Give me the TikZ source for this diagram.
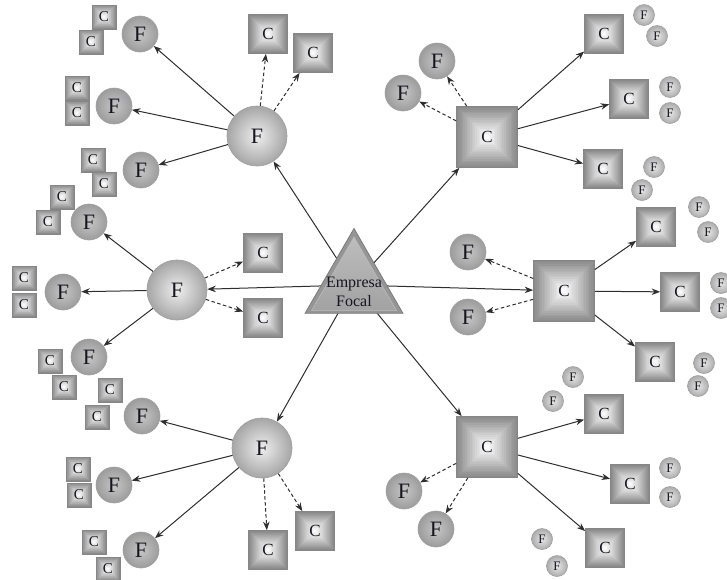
\documentclass[tikz,border=0pt]{standalone}
\usepackage{fontspec}
\setmainfont{Liberation Serif}
\newfontfamily\diagfont{Liberation Serif}
\usetikzlibrary{arrows.meta,shapes.geometric,backgrounds,calc}

\definecolor{linec}{HTML}{2E2E2E}
\definecolor{bigFin}{HTML}{EEEEEE}
\definecolor{bigFout}{HTML}{A6A6A6}
\definecolor{midFin}{HTML}{C6C6C6}
\definecolor{midFout}{HTML}{9C9C9C}
\definecolor{tinyFin}{HTML}{E8E8E8}
\definecolor{tinyFout}{HTML}{ABABAB}
\definecolor{circline}{HTML}{A0A0A0}
\definecolor{sqedge}{HTML}{8A8A8A}
\definecolor{sqmid}{HTML}{FCFCFC}
\definecolor{sqline}{HTML}{868686}
\definecolor{triout}{HTML}{959595}
\definecolor{triline}{HTML}{7C7C7C}
\definecolor{triinTop}{HTML}{BDBDBD}
\definecolor{triinBot}{HTML}{A2A2A2}
\definecolor{ink}{HTML}{161620}

\tikzset{
  every node/.style={text=ink},
  % bevel of the square company nodes: nested squares from grey rim to light centre
  pyramid/.style={path picture={
    \foreach \k in {0,...,17}{
      \pgfmathsetmacro\f{1-\k/18}
      \pgfmathsetmacro\p{100*\k/17}
      \fill[sqmid!\p!sqedge]
        ($(path picture bounding box.center)!\f!(path picture bounding box.north west)$)
        rectangle
        ($(path picture bounding box.center)!\f!(path picture bounding box.south east)$);
    }
  }},
  sq/.style={rectangle, inner sep=0pt, fill=sqedge, draw=sqline, line width=0.7pt, pyramid},
  bigC/.style={sq, minimum size=61pt, font=\diagfont\fontsize{17}{17}\selectfont},
  midC/.style={sq, minimum size=39pt, font=\diagfont\fontsize{17}{17}\selectfont},
  smallC/.style={sq, minimum size=24pt, font=\diagfont\fontsize{15}{15}\selectfont},
  bigF/.style={circle, inner sep=0pt, minimum size=60pt, draw=circline, line width=0.6pt,
    shading=radial, inner color=bigFin, outer color=bigFout, font=\diagfont\fontsize{22}{22}\selectfont},
  midF/.style={circle, inner sep=0pt, minimum size=36pt, draw=circline, line width=0.6pt,
    shading=radial, inner color=midFin, outer color=midFout, font=\diagfont\fontsize{22}{22}\selectfont},
  tinyF/.style={circle, inner sep=0pt, minimum size=21pt, draw=circline, line width=0.6pt,
    shading=radial, inner color=tinyFin, outer color=tinyFout, font=\diagfont\fontsize{13}{13}\selectfont},
  arr/.style={draw=linec, line width=1pt, -{Stealth[length=8.5pt,width=6.5pt]}},
  darr/.style={arr, dash pattern=on 3.5pt off 2.5pt},
}

\begin{document}
\begin{tikzpicture}[x=1pt, y=-1pt]
\useasboundingbox (0,0) rectangle (727,579);

% ---------- focal company ----------
\node[regular polygon, regular polygon sides=3, minimum size=113pt, inner sep=0pt,
      fill=triout, draw=triline, line width=0.8pt] (tri) at (354,285) {};
\node[regular polygon, regular polygon sides=3, minimum size=98pt, inner sep=0pt,
      top color=triinTop, bottom color=triinBot, draw=triinTop, line width=0.5pt] (triIn) at (354,286) {};
\node[align=center, font=\diagfont\fontsize{16}{19}\selectfont] (focal) at (354,292) {Empresa\\Focal};

% ---------- first-tier hubs ----------
\node[bigF] (hT) at (257,136) {F};
\node[bigF] (hL) at (177,290) {F};
\node[bigF] (hB) at (262,448) {F};
\node[bigC] (hTR) at (487,137) {C};
\node[bigC] (hR) at (564,291) {C};
\node[bigC] (hBR) at (487,447) {C};

% ---------- upper supplier hub ----------
\node[midF] (t1) at (140,34) {F};
\node[midF] (t2) at (114,106) {F};
\node[midF] (t3) at (141,170) {F};
\node[smallC] (t1a) at (104,17) {C};
\node[smallC] (t1b) at (91,42) {C};
\node[smallC] (t2a) at (77,88) {C};
\node[smallC] (t2b) at (77,113) {C};
\node[smallC] (t3a) at (93,160) {C};
\node[smallC] (t3b) at (104,184) {C};
\node[midC] (tc1) at (268,34) {C};
\node[midC] (tc2) at (313,53) {C};

% ---------- left supplier hub ----------
\node[midF] (l1) at (89,222) {F};
\node[midF] (l2) at (63,292) {F};
\node[midF] (l3) at (89,357) {F};
\node[smallC] (l1a) at (62,197) {C};
\node[smallC] (l1b) at (48,222) {C};
\node[smallC] (l2a) at (24,278) {C};
\node[smallC] (l2b) at (24,305) {C};
\node[smallC] (l3a) at (50,361) {C};
\node[smallC] (l3b) at (64,387) {C};
\node[midC] (lc1) at (263,253) {C};
\node[midC] (lc2) at (263,318) {C};

% ---------- lower supplier hub ----------
\node[midF] (b1) at (142,416) {F};
\node[midF] (b2) at (114,485) {F};
\node[midF] (b3) at (141,550) {F};
\node[smallC] (b1a) at (110,390) {C};
\node[smallC] (b1b) at (97,417) {C};
\node[smallC] (b2a) at (78,469) {C};
\node[smallC] (b2b) at (79,495) {C};
\node[smallC] (b3a) at (94,542) {C};
\node[smallC] (b3b) at (108,569) {C};
\node[midC] (bc1) at (268,550) {C};
\node[midC] (bc2) at (315,531) {C};

% ---------- upper customer hub ----------
\node[midF] (ur1) at (437,61) {F};
\node[midF] (ur2) at (403,93) {F};
\node[midC] (uc1) at (604,34) {C};
\node[midC] (uc2) at (629,99) {C};
\node[midC] (uc3) at (603,169) {C};
\node[tinyF] (uc1a) at (644,15) {F};
\node[tinyF] (uc1b) at (657,36) {F};
\node[tinyF] (uc2a) at (670,87) {F};
\node[tinyF] (uc2b) at (670,113) {F};
\node[tinyF] (uc3a) at (654,167) {F};
\node[tinyF] (uc3b) at (642,190) {F};

% ---------- right customer hub ----------
\node[midF] (rf1) at (468,252) {F};
\node[midF] (rf2) at (468,317) {F};
\node[midC] (rc1) at (656,227) {C};
\node[midC] (rc2) at (680,292) {C};
\node[midC] (rc3) at (655,362) {C};
\node[tinyF] (rc1a) at (699,207) {F};
\node[tinyF] (rc1b) at (708,232) {F};
\node[tinyF] (rc2a) at (721,283) {F};
\node[tinyF] (rc2b) at (721,308) {F};
\node[tinyF] (rc3a) at (704,363) {F};
\node[tinyF] (rc3b) at (698,386) {F};

% ---------- lower customer hub ----------
\node[midF] (lf1) at (404,491) {F};
\node[midF] (lf2) at (436,529) {F};
\node[midC] (lc4) at (604,414) {C};
\node[midC] (lc5) at (630,484) {C};
\node[midC] (lc6) at (605,548) {C};
\node[tinyF] (lc4a) at (573,377) {F};
\node[tinyF] (lc4b) at (553,401) {F};
\node[tinyF] (lc5a) at (670,468) {F};
\node[tinyF] (lc5b) at (670,497) {F};
\node[tinyF] (lc6a) at (542,539) {F};
\node[tinyF] (lc6b) at (557,566) {F};

% ---------- links from the focal company ----------
\begin{scope}[on background layer]
  \foreach \h in {hT,hL,hB,hTR,hR,hBR}
    \draw[arr] (tri.center) -- (\h);
\end{scope}

% ---------- second-tier links ----------
\foreach \s in {t1,t2,t3} \draw[arr] (hT) -- (\s);
\foreach \s in {tc1,tc2} \draw[darr] (hT) -- (\s);
\foreach \s in {l1,l2,l3} \draw[arr] (hL) -- (\s);
\foreach \s in {lc1,lc2} \draw[darr] (hL) -- (\s);
\foreach \s in {b1,b2,b3} \draw[arr] (hB) -- (\s);
\foreach \s in {bc1,bc2} \draw[darr] (hB) -- (\s);
\foreach \s in {uc1,uc2,uc3} \draw[arr] (hTR) -- (\s);
\foreach \s in {ur1,ur2} \draw[darr] (hTR) -- (\s);
\foreach \s in {rc1,rc2,rc3} \draw[arr] (hR) -- (\s);
\foreach \s in {rf1,rf2} \draw[darr] (hR) -- (\s);
\foreach \s in {lc4,lc5,lc6} \draw[arr] (hBR) -- (\s);
\foreach \s in {lf1,lf2} \draw[darr] (hBR) -- (\s);
\end{tikzpicture}
\end{document}
